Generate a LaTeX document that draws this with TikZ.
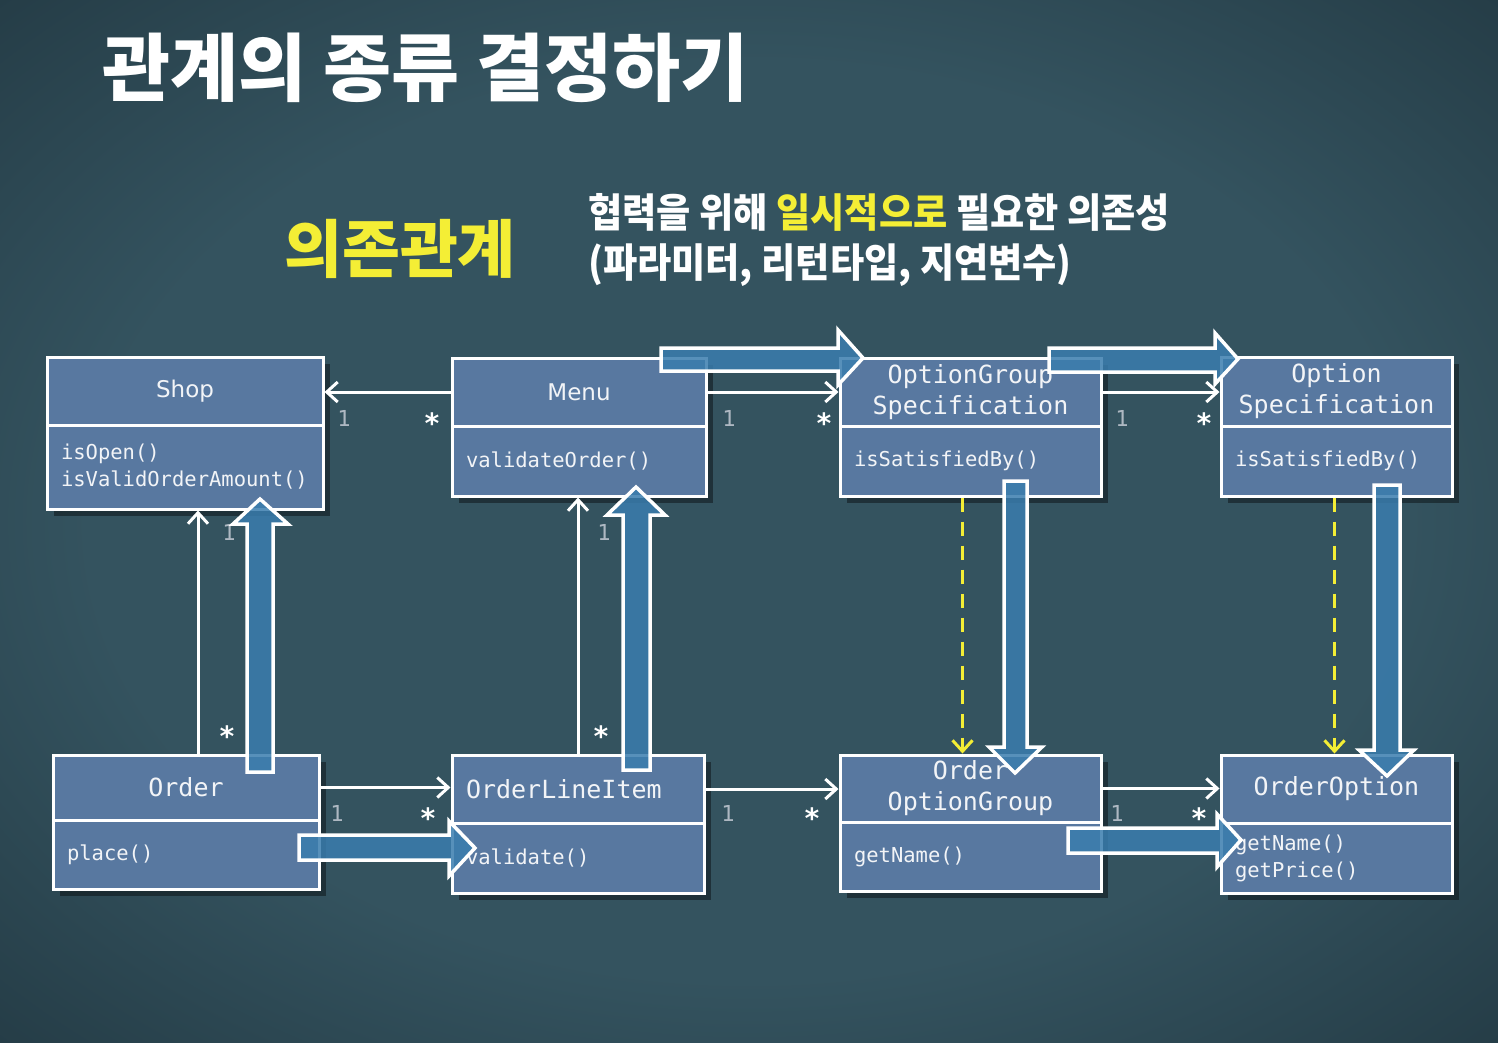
\documentclass[tikz,border=0pt]{standalone}
\usepackage{fontspec}
\setmainfont{DejaVu Sans}
\setmonofont{DejaVu Sans Mono}
\newfontfamily\kr{Noto Sans CJK KR}
\newfontfamily\headsans{DejaVu Sans}
\usetikzlibrary{arrows.meta,shadows}

\definecolor{bgin}{HTML}{34535F}
\definecolor{bgout}{HTML}{15252D}
\definecolor{boxblue}{HTML}{5878A0}
\definecolor{bigblue}{HTML}{3A7DAE}
\definecolor{hiyellow}{HTML}{F4EE35}
\definecolor{multgray}{HTML}{AEB8C2}

\pgfdeclareradialshading{slate}{\pgfpoint{0bp}{0bp}}{color(0bp)=(bgin); color(22bp)=(bgin); color(50bp)=(bgout)}

\tikzstyle{classhead}=[draw=white, line width=3pt, fill=boxblue, text=white!92!boxblue, font=\ttfamily\fontsize{25}{31}\selectfont, align=center, inner sep=0pt, drop shadow={shadow xshift=7pt, shadow yshift=-7pt, opacity=0.4, fill=black}]
\tikzstyle{classbody}=[classhead, font=\ttfamily\fontsize{20.5}{27}\selectfont, align=left, inner xsep=14pt]
\tikzstyle{assoc}=[white, line width=3pt, -{Straight Barb[length=11pt, width=20pt]}]
\tikzstyle{depend}=[hiyellow, line width=3pt, dash pattern=on 14pt off 10pt, -{Straight Barb[length=11pt, width=20pt]}]
\tikzstyle{bigarrow}=[fill=bigblue, fill opacity=0.85, draw=white, line width=3.5pt, miter limit=20]
\tikzstyle{multone}=[text=multgray, font=\ttfamily\fontsize{22}{22}\selectfont, inner sep=0pt]
\tikzstyle{multmany}=[text=white, font=\ttfamily\bfseries\fontsize{28}{28}\selectfont, inner sep=0pt]

\begin{document}
\begin{tikzpicture}[x=1pt, y=-1pt]
\useasboundingbox (0,0) rectangle (1498,1042);
\shade[shading=slate] (0,0) rectangle (1498,1042);

% Headings
    \node[anchor=west, inner sep=0pt, text=white, font=\kr\bfseries\fontsize{74}{80}\selectfont] (title) at (102,68) {관계의 종류 결정하기};
    \node[inner sep=0pt, text=hiyellow, font=\kr\bfseries\fontsize{63}{63}\selectfont] (kind) at (400,249) {의존관계};
    \node[anchor=west, inner sep=0pt, text=white, font=\kr\bfseries\fontsize{40}{40}\selectfont] (sub1) at (588,212) {\scalebox{0.93}[1]{협력을 위해 \textcolor{hiyellow}{일시적으로} 필요한 의존성}};
    \node[anchor=west, inner sep=0pt, text=white, font=\kr\bfseries\fontsize{40}{40}\selectfont] (sub2) at (588,265) {\scalebox{0.93}[1]{(파라미터, 리턴타입, 지연변수)}};

% Classes
    \node[classhead, font=\headsans\fontsize{23}{28}\selectfont, minimum width=276pt, minimum height=68pt] (shoph) at (185,391) {Shop};
    \node[classbody, text width=248pt, minimum height=84pt] (shopb) at (185,467) {isOpen()\\isValidOrderAmount()};
    \node[classhead, font=\headsans\fontsize{23}{28}\selectfont, minimum width=254pt, minimum height=68pt] (menuh) at (579,392) {Menu};
    \node[classbody, text width=226pt, minimum height=70pt] (menub) at (579,461) {validateOrder()};
    \node[classhead, minimum width=261pt, minimum height=68pt] (ogsh) at (970.5,392) {OptionGroup\\Specification};
    \node[classbody, text width=233pt, minimum height=70pt] (ogsb) at (970.5,461) {isSatisfiedBy()};
    \node[classhead, minimum width=231pt, minimum height=69pt] (osh) at (1336.5,391.5) {Option\\Specification};
    \node[classbody, text width=203pt, minimum height=70pt] (osb) at (1336.5,461) {isSatisfiedBy()};
    \node[classhead, minimum width=266pt, minimum height=65pt] (orderh) at (186,787.5) {Order};
    \node[classbody, text width=238pt, minimum height=69pt] (orderb) at (186,854.5) {place()};
    \node[classhead, align=left, inner xsep=14pt, text width=224pt, minimum height=68pt] (olih) at (578,789) {OrderLineItem};
    \node[classbody, text width=224pt, minimum height=70pt] (olib) at (578,858) {validate()};
    \node[classhead, minimum width=261pt, minimum height=67pt] (oogh) at (970.5,788.5) {Order\\OptionGroup};
    \node[classbody, text width=233pt, minimum height=69pt] (oogb) at (970.5,856.5) {getName()};
    \node[classhead, minimum width=231pt, minimum height=68pt] (ooh) at (1336.5,789) {OrderOption};
    \node[classbody, text width=203pt, minimum height=70pt] (oob) at (1336.5,858) {getName()\\getPrice()};

% Associations
    \draw[assoc] (menuh.west) -- (menuh.west -| shoph.east);
    \draw[assoc] (menuh.east) -- (menuh.east -| ogsh.west);
    \draw[assoc] (ogsh.east) -- (ogsh.east -| osh.west);
    \draw[assoc] (orderh.east) -- (orderh.east -| olih.west);
    \draw[assoc] (olih.east) -- (olih.east -| oogh.west);
    \draw[assoc] (oogh.east) -- (oogh.east -| ooh.west);
    \draw[assoc] ([xshift=12pt]orderh.north) -- ([xshift=12pt]orderh.north |- shopb.south);
    \draw[assoc] (olih.north) -- (olih.north |- menub.south);
    \draw[depend] ([xshift=-8pt]ogsb.south) -- ([xshift=-8pt]ogsb.south |- oogh.north);
    \draw[depend] ([xshift=-2pt]osb.south) -- ([xshift=-2pt]osb.south |- ooh.north);

% Multiplicities
    \node[multone] (m1) at (344,418) {1};
    \node[multmany] (m2) at (432,423) {*};
    \node[multone] (m3) at (729,418) {1};
    \node[multmany] (m4) at (824,423) {*};
    \node[multone] (m5) at (1122,418) {1};
    \node[multmany] (m6) at (1204,423) {*};
    \node[multone] (m7) at (229,532) {1};
    \node[multmany] (m8) at (227,736) {*};
    \node[multone] (m9) at (604,532) {1};
    \node[multmany] (m10) at (601,736) {*};
    \node[multone] (m11) at (337,813) {1};
    \node[multmany] (m12) at (428,818) {*};
    \node[multone] (m13) at (728,813) {1};
    \node[multmany] (m14) at (812,818) {*};
    \node[multone] (m15) at (1117,813) {1};
    \node[multmany] (m16) at (1199,818) {*};

% Collaboration arrows
    \draw[bigarrow] (247,772) -- (247,524) -- (233,524) -- (260,499) -- (288,524) -- (273,524) -- (273,772) -- cycle;
    \draw[bigarrow] (623,770) -- (623,515) -- (607,515) -- (636,487) -- (665,515) -- (650,515) -- (650,770) -- cycle;
    \draw[bigarrow] (661,348) -- (838,348) -- (838,330) -- (863,358) -- (838,385) -- (838,371) -- (661,371) -- cycle;
    \draw[bigarrow] (1049,348) -- (1215,348) -- (1215,333) -- (1238,359) -- (1215,384) -- (1215,372) -- (1049,372) -- cycle;
    \draw[bigarrow] (1004,481) -- (1004,747) -- (989,747) -- (1015,773) -- (1042,747) -- (1027,747) -- (1027,481) -- cycle;
    \draw[bigarrow] (1374,485) -- (1374,750) -- (1359,750) -- (1387,776) -- (1414,750) -- (1400,750) -- (1400,485) -- cycle;
    \draw[bigarrow] (299,835) -- (449,835) -- (449,821) -- (475,848) -- (449,876) -- (449,860) -- (299,860) -- cycle;
    \draw[bigarrow] (1068,828) -- (1217,828) -- (1217,814) -- (1241,840) -- (1217,867) -- (1217,853) -- (1068,853) -- cycle;

\end{tikzpicture}
\end{document}
